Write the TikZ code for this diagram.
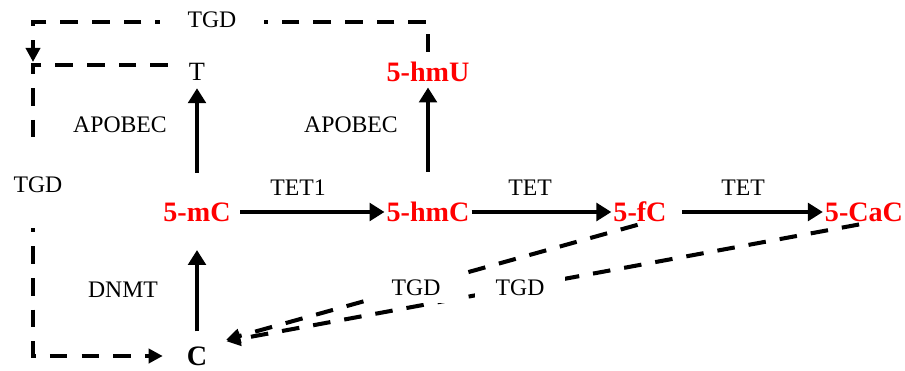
\documentclass[tikz,border=0pt]{standalone}
\usepackage{fontspec}
\setmainfont{Liberation Serif}
\usetikzlibrary{arrows.meta}

\begin{document}
\begin{tikzpicture}[x=0.02cm, y=-0.02cm,
      base/.style={font=\fontsize{16}{19}\selectfont\bfseries, text=red, inner sep=1pt},
      enz/.style={font=\fontsize{13.5}{16}\selectfont, inner sep=1pt},
      gap/.style={enz, fill=white, inner sep=4pt},
      conv/.style={line width=2.8pt, -{Triangle[length=8.5pt,width=10pt]}},
      tgd/.style={line width=2.3pt, dash pattern=on 10pt off 8pt, -{Triangle[length=8pt,width=8pt]}}]
  \useasboundingbox (0,0) rectangle (905,371);
  % bases
  \node[base] (mc) at (197,212) {5-mC};
  \node[base] (hmc) at (428,212) {5-hmC};
  \node[base] (fc) at (640,212) {5-fC};
  \node[base] (cac) at (864,212) {5-CaC};
  \node[base] (hmu) at (428,72) {5-hmU};
  \node[enz, font=\fontsize{15}{18}\selectfont] (t) at (197,72) {T};
  \node[base, text=black] (c) at (197,356) {C};
  % corners of the TGD loops
  \coordinate (ctop) at (33,22);
  \coordinate (cmid) at (33,65);
  % enzymes
  \node[enz] (apobect) at (120,125) {APOBEC};
  \node[enz] (apobecu) at (351,125) {APOBEC};
  \node[enz] (tet1) at (298,188) {TET1};
  \node[enz] (tetf) at (530,188) {TET};
  \node[enz] (tetca) at (743,188) {TET};
  \node[enz] (dnmt) at (123,290) {DNMT};
  % solid conversions
  \draw[conv, shorten <=0.26cm, shorten >=0.53cm] (c) -- (mc);
  \draw[conv, shorten <=0.55cm, shorten >=0.11cm] (mc) -- (t);
  \draw[conv, shorten <=0.57cm, shorten >=0.07cm] (hmc) -- (hmu);
  \draw[conv, shorten <=0.15cm] (mc) -- (hmc);
  \draw[conv] (hmc) -- (fc);
  \draw[conv, shorten <=0.27cm] (fc) -- (cac);
  % TGD repair
  \draw[tgd, shorten <=0.17cm, shorten >=0.06cm] (hmu) -- (hmu |- ctop) -- (ctop) -- (cmid);
  \draw[tgd, shorten <=0.38cm, shorten >=0.44cm] (t.west |- cmid) -- (cmid) -- (cmid |- c) -- (c);
  \draw[tgd, shorten <=0.05cm, shorten >=0.35cm] (fc.south) -- (c.north east);
  \draw[tgd, shorten <=0.1cm, shorten >=0.35cm] (cac.south) -- (c.north east);
  \node[gap, inner xsep=16pt] (tgdtop) at (212,20) {TGD};
  \node[gap, inner ysep=20pt] (tgdleft) at (38,185) {TGD};
  \node[gap, inner xsep=14pt] (tgdf) at (416,288) {TGD};
  \node[gap, inner xsep=12pt] (tgdca) at (520,288) {TGD};
\end{tikzpicture}
\end{document}
